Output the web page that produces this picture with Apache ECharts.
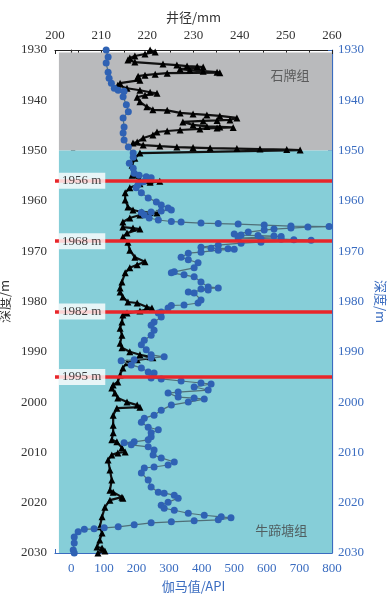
<!DOCTYPE html>
<html><head><meta charset="utf-8">
<script src="https://cdn.jsdelivr.net/npm/echarts/dist/echarts.min.js"></script>
<style>html,body{margin:0;padding:0;background:#fff}#c{width:390px;height:600px}</style>
</head><body><div id="c"></div>
<script>
// Caliper (井径, mm) – black triangles, top axis
const caliperDepth = [1930.0,1930.4,1930.8,1931.2,1931.6,1932.0,1932.4,1932.8,1933.0,1933.2,1933.3,1933.4,1933.8,1934.0,1934.2,1934.4,1934.5,1934.6,1934.8,1935.0,1935.2,1935.6,1936.0,1936.6,1937.0,1937.6,1938.0,1938.4,1938.6,1939.0,1939.4,1940.3,1941.3,1941.9,1942.0,1942.5,1942.7,1942.9,1943.1,1943.5,1943.9,1944.0,1944.1,1944.3,1944.9,1945.2,1945.3,1945.4,1945.5,1945.7,1945.9,1946.1,1946.3,1946.9,1947.5,1948.3,1948.5,1948.9,1949.1,1949.3,1949.4,1949.5,1949.6,1949.7,1949.8,1949.9,1950.5,1951.5,1952.9,1954.9,1955.8,1956.0,1956.1,1956.3,1956.6,1957.4,1958.4,1959.8,1961.2,1961.8,1962.2,1962.3,1962.4,1962.8,1963.4,1964.2,1965.2,1965.4,1965.6,1966.4,1967.2,1968.2,1969.8,1971.2,1972.1,1972.7,1973.3,1974.3,1976.1,1977.3,1978.1,1979.1,1980.1,1980.3,1981.1,1981.3,1981.9,1982.3,1982.7,1984.1,1985.3,1986.7,1988.3,1989.2,1990.0,1990.6,1991.0,1991.2,1991.6,1992.2,1993.2,1994.6,1996.0,1996.6,1997.2,1998.2,1999.2,2000.0,2000.6,2001.0,2001.2,2002.6,2004.6,2006.1,2007.5,2007.9,2009.1,2009.9,2010.1,2010.5,2011.5,2013.5,2015.5,2017.5,2017.9,2018.9,2019.1,2019.5,2020.9,2022.8,2024.8,2026.0,2027.4,2028.8,2029.0,2029.6,2030.0];
const caliperValue = [220.6,221.7,219.5,217.3,216.2,215.8,217.3,223.4,226.4,228.6,230.8,232.1,227.1,229.2,232.1,235.1,235.7,224.3,221.7,219.5,218.0,217.8,218.4,214.1,213.6,215.6,218.4,220.6,222.1,219.5,217.8,218.4,219.9,221.2,224.3,227.1,229.9,232.9,235.7,239.4,237.9,235.1,232.1,227.7,229.9,232.9,235.7,238.6,235.1,231.4,227.1,224.3,222.1,221.2,219.1,217.8,216.9,219.1,222.7,226.4,229.9,233.6,239.4,244.4,250.2,253.1,218.4,217.3,216.7,216.7,218.4,220.6,222.7,220.6,218.4,216.2,215.2,215.2,215.8,216.9,218.8,220.6,222.1,218.4,216.2,214.7,214.7,216.9,218.4,215.6,214.7,215.8,216.2,217.3,219.5,217.8,216.2,215.2,214.5,214.1,214.1,214.7,215.8,217.8,219.9,221.0,218.4,215.6,214.7,214.5,214.1,214.5,214.1,214.5,216.2,218.4,220.6,221.2,217.8,215.6,214.7,214.1,213.6,212.6,212.3,213.0,213.6,215.6,217.8,218.4,213.4,212.6,212.6,212.6,212.3,213.4,214.5,215.2,213.6,212.3,211.5,211.9,212.3,211.9,212.6,214.5,214.7,211.9,210.8,210.2,209.7,210.2,209.7,209.1,210.2,210.8,209.3];

// Gamma (伽马值, API) – blue markers, bottom axis
const gammaDepth = [1930.0,1931.4,1932.6,1934.4,1935.6,1936.6,1937.6,1938.0,1938.2,1939.3,1940.9,1942.3,1943.5,1945.3,1946.5,1947.9,1949.3,1950.5,1951.3,1952.5,1953.5,1954.5,1954.9,1955.2,1955.4,1956.2,1956.8,1957.4,1958.4,1959.4,1960.2,1960.8,1961.4,1961.8,1962.0,1962.2,1962.3,1962.8,1963.4,1963.8,1964.1,1964.2,1964.4,1964.5,1964.6,1964.8,1965.0,1965.1,1965.2,1965.4,1965.6,1965.8,1966.2,1966.6,1966.8,1966.9,1967.0,1967.1,1967.4,1967.5,1967.6,1967.7,1967.8,1968.2,1968.4,1968.8,1969.2,1969.4,1969.5,1969.6,1969.8,1970.2,1970.4,1971.2,1971.7,1972.3,1973.3,1974.1,1974.3,1974.7,1975.1,1976.1,1977.1,1977.3,1977.5,1977.7,1978.1,1978.3,1979.7,1980.3,1980.7,1980.8,1981.3,1982.1,1982.3,1983.1,1984.1,1984.7,1985.7,1986.7,1987.7,1988.6,1989.6,1990.6,1991.0,1991.2,1991.6,1991.8,1992.6,1993.2,1994.0,1994.2,1995.2,1995.4,1995.8,1996.2,1996.4,1997.0,1997.6,1998.0,1998.2,1999.0,1999.2,1999.4,2000.0,2000.6,2001.6,2002.6,2003.2,2004.0,2005.0,2005.5,2006.1,2006.9,2007.5,2007.9,2008.1,2008.5,2008.9,2009.5,2010.5,2011.1,2011.9,2012.5,2012.9,2013.1,2014.1,2015.5,2016.9,2017.9,2018.1,2018.5,2019.1,2019.9,2020.5,2021.1,2021.5,2022.1,2022.5,2022.8,2023.0,2023.4,2023.6,2023.8,2024.0,2024.4,2024.8,2025.0,2025.2,2025.3,2025.8,2026.8,2028.0,2029.4,2030.0];
const gammaValue = [107,113,107,113,116,123,132,144,162,159,169,175,159,162,159,162,175,190,190,178,190,193,208,230,245,221,205,199,215,236,261,276,297,307,276,245,215,224,239,267,307,337,398,451,512,592,674,791,726,674,622,592,543,500,521,573,622,644,512,582,644,683,736,582,521,451,398,429,481,500,451,398,359,337,359,389,377,316,307,346,377,398,420,451,398,420,359,377,398,389,346,307,297,276,267,276,254,245,254,245,224,215,230,245,285,245,193,153,184,215,236,254,245,276,337,398,429,377,420,328,297,328,377,408,359,307,276,254,224,215,236,267,245,245,236,193,162,184,236,254,251,276,316,297,254,224,215,236,245,267,285,316,328,297,276,285,316,359,408,460,490,451,377,307,245,193,144,101,70,40,21,9,9,6,9];

// Marked depths (m) and formations
const markerDepths = [1956, 1968, 1982, 1995];
const formationNames = ['石牌组', '牛蹄塘组'];
const formationTop = [1930, 1950];
const formationBottom = [1950, 2030];

const SERIF = 'Liberation Serif';
const CJK = 'Noto Sans CJK SC';
const BLUE = '#2f62b4';
const AX_BLUE = '#3a6cc0';

const chart = echarts.init(document.getElementById('c'), null, {renderer: 'canvas'});

const tenOnly = v => (Math.round(v) % 10 === 0 ? String(Math.round(v)) : '');
const hundredOnly = v => (v >= 0 && Math.round(v) % 100 === 0 ? String(Math.round(v)) : '');

const depthAxis = (pos, color, nameRotate, nameGap) => ({
  type: 'value', position: pos, inverse: true, min: 1930, max: 2030, interval: 5,
  name: '深度/m', nameLocation: 'middle', nameGap: nameGap, nameRotate: nameRotate,
  nameTextStyle: {color: color, fontFamily: CJK, fontSize: 13},
  axisLine: {show: true, lineStyle: {color: color, width: 1.2}},
  axisTick: {show: true, inside: true, length: 4, lineStyle: {color: color}},
  axisLabel: {color: color, fontFamily: SERIF, fontSize: 13, margin: pos === 'left' ? 8 : 6, formatter: tenOnly},
  splitLine: {show: false}
});

const areaColors = ['#b9babc', '#86ced8'];

const option = {
  animation: false,
  grid: {left: 55, right: 58, top: 50, bottom: 47, containLabel: false, outerBoundsMode: 'none'},
  xAxis: [
    {
      type: 'value', position: 'bottom', min: -50, max: 800, interval: 50,
      name: '伽马值/API', nameLocation: 'middle', nameGap: 26,
      nameTextStyle: {color: AX_BLUE, fontFamily: CJK, fontSize: 13},
      axisLine: {show: true, onZero: false, lineStyle: {color: AX_BLUE, width: 1.2}},
      axisTick: {show: true, inside: true, length: 4, lineStyle: {color: AX_BLUE}},
      axisLabel: {color: AX_BLUE, fontFamily: SERIF, fontSize: 13, margin: 9, formatter: hundredOnly},
      splitLine: {show: false}
    },
    {
      type: 'value', position: 'top', min: 200, max: 260, interval: 5,
      name: '井径/mm', nameLocation: 'middle', nameGap: 26,
      nameTextStyle: {color: '#333', fontFamily: CJK, fontSize: 13},
      axisLine: {show: true, onZero: false, lineStyle: {color: '#222', width: 1.2}},
      axisTick: {show: true, inside: true, length: 4, lineStyle: {color: '#222'}},
      axisLabel: {color: '#333', fontFamily: SERIF, fontSize: 13, margin: 8, formatter: tenOnly},
      splitLine: {show: false}
    }
  ],
  yAxis: [
    depthAxis('left', '#333', 90, 38),
    depthAxis('right', AX_BLUE, -90, 38)
  ],
  series: [
    {
      type: 'line', xAxisIndex: 0, yAxisIndex: 0, data: [], z: 0, silent: true,
      markArea: {
        silent: true,
        data: formationNames.map((n, i) => [
          {xAxis: -38, yAxis: i === 0 ? formationTop[i] + 0.5 : formationTop[i], itemStyle: {color: areaColors[i], opacity: 1}},
          {xAxis: 800, yAxis: formationBottom[i]}
        ])
      }
    },
    {
      type: 'line', xAxisIndex: 0, yAxisIndex: 0, data: [], z: 1, silent: true,
      markLine: {
        silent: true, symbol: ['none', 'none'],
        lineStyle: {color: '#e8262a', width: 3.5, type: 'solid'},
        label: {show: false},
        data: markerDepths.map(d => [{coord: [-50, d]}, {coord: [800, d]}])
      }
    },
    {
      name: '井径', type: 'line', xAxisIndex: 1, yAxisIndex: 0, z: 3,
      data: caliperDepth.map((d, i) => [caliperValue[i], d]),
      symbol: 'triangle', symbolSize: 7, showSymbol: true,
      itemStyle: {color: '#000'},
      lineStyle: {color: '#111', width: 2.2}
    },
    {
      name: '伽马', type: 'line', xAxisIndex: 0, yAxisIndex: 0, z: 4,
      data: gammaDepth.map((d, i) => [gammaValue[i], d]),
      symbol: 'circle', symbolSize: 7, showSymbol: true,
      itemStyle: {color: BLUE},
      lineStyle: {color: '#4f6f78', width: 1.2}
    },
    {
      type: 'scatter', xAxisIndex: 0, yAxisIndex: 0, z: 6, symbolSize: 0, silent: true,
      data: markerDepths.map(d => [-38, d]),
      label: {
        show: true, position: 'right', distance: 0,
        formatter: p => p.value[1] + ' m',
        backgroundColor: '#fff', padding: [2, 4, 1, 3],
        color: '#111', fontFamily: SERIF, fontSize: 13
      }
    },
    {
      type: 'scatter', xAxisIndex: 0, yAxisIndex: 0, z: 6, symbolSize: 0, silent: true,
      data: [[671, 1935, formationNames[0]], [644, 2025.4, formationNames[1]]],
      label: {
        show: true, position: 'inside', formatter: p => p.value[2],
        color: '#444', fontFamily: CJK, fontSize: 13
      }
    }
  ]
};
chart.setOption(option);
</script></body></html>
